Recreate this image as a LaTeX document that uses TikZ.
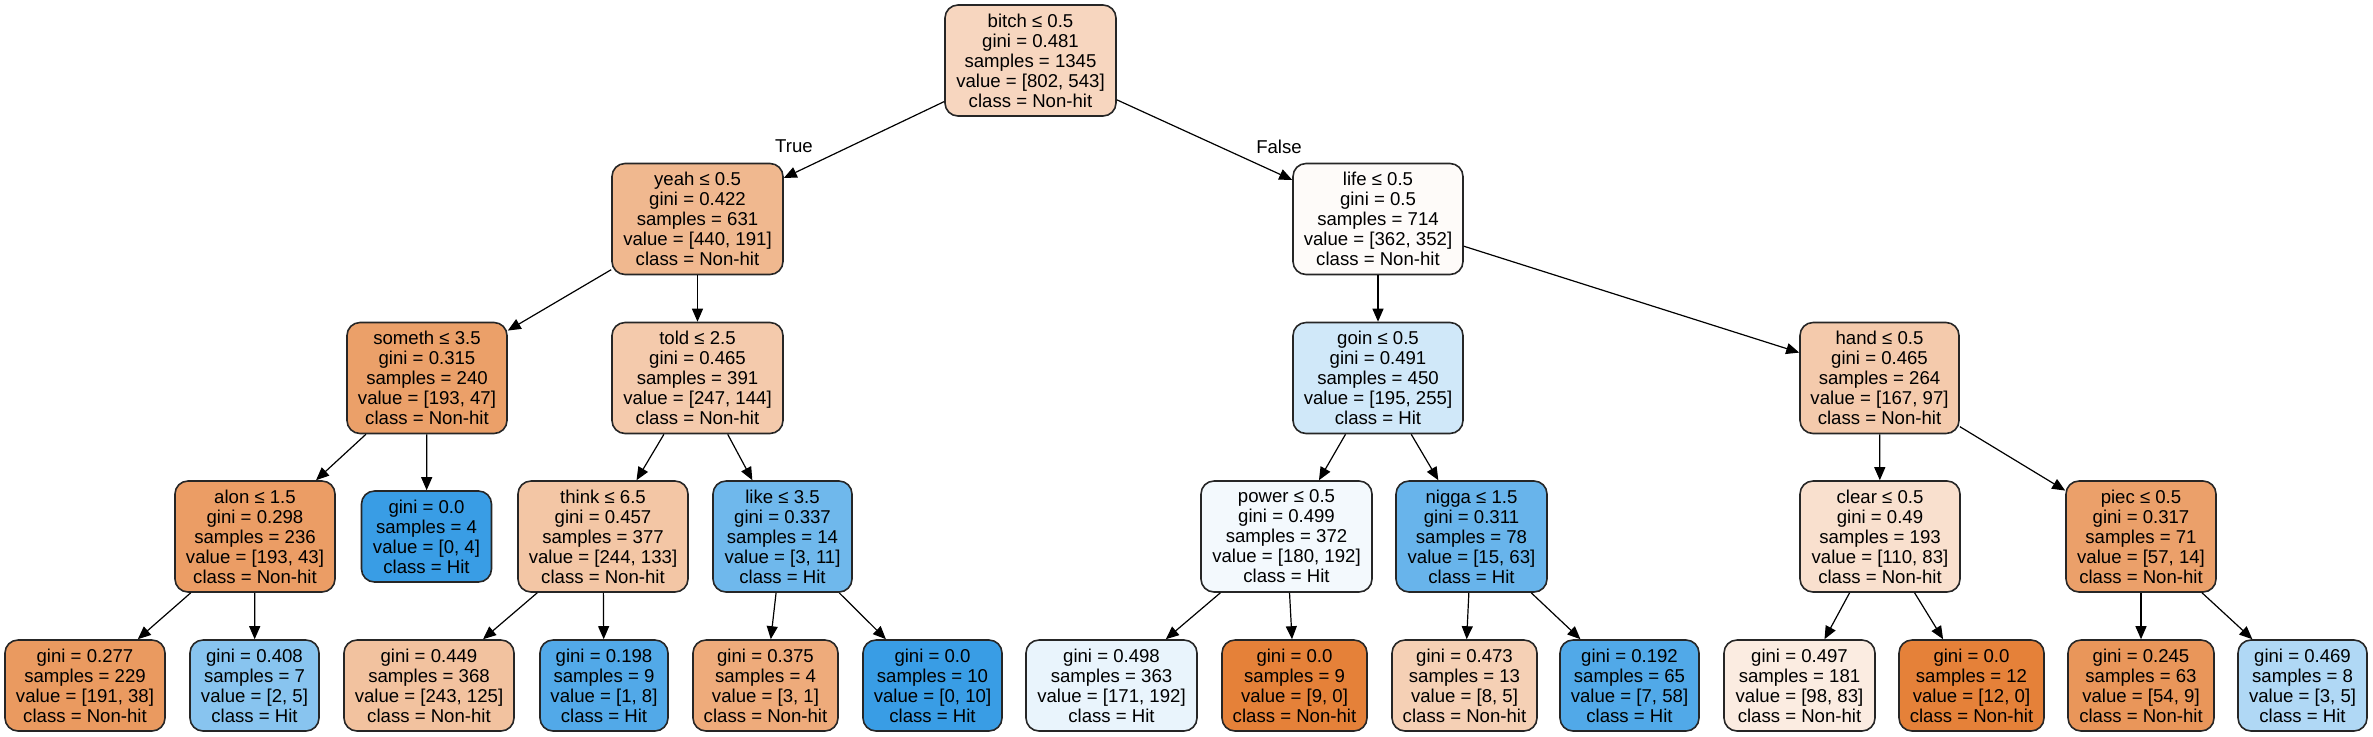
\documentclass[tikz,border=0pt]{standalone}
\usepackage{fontspec}
\setmainfont{Liberation Sans}
\usetikzlibrary{arrows.meta}
\definecolor{nh}{RGB}{229,129,57}
\definecolor{ht}{RGB}{57,157,229}
\tikzset{
  tn/.style={draw=black!85, line width=0.8pt, rounded corners=6.5pt, align=center,
    inner sep=0pt, font=\fontsize{9.3}{10}\selectfont},
  dn/.style={tn, minimum height=55.5pt},
  lf/.style={tn, minimum height=45.5pt},
  edge/.style={draw=black, line width=0.6pt, -{Triangle[length=6.5pt,width=5.5pt]}},
  elab/.style={font=\fontsize{9.3}{10}\selectfont, inner sep=0pt}
}
\begin{document}
\begin{tikzpicture}[x=0.5pt,y=-0.5pt]
\useasboundingbox (0,0) rectangle (2373,736);
% level 0
\node[dn, fill=nh!32.3, minimum width=85.5pt] (root) at (1030.5,60.5) {bitch ≤ 0.5\\gini = 0.481\\samples = 1345\\value = [802, 543]\\class = Non-hit};
% level 1
\node[dn, fill=nh!56.6, minimum width=85.5pt] (yeah) at (697.5,219) {yeah ≤ 0.5\\gini = 0.422\\samples = 631\\value = [440, 191]\\class = Non-hit};
\node[dn, fill=nh!2.8, minimum width=85pt] (life) at (1378,219) {life ≤ 0.5\\gini = 0.5\\samples = 714\\value = [362, 352]\\class = Non-hit};
% level 2
\node[dn, fill=nh!75.6, minimum width=80pt] (someth) at (427,378) {someth ≤ 3.5\\gini = 0.315\\samples = 240\\value = [193, 47]\\class = Non-hit};
\node[dn, fill=nh!41.7, minimum width=85.5pt] (told) at (697.5,378) {told ≤ 2.5\\gini = 0.465\\samples = 391\\value = [247, 144]\\class = Non-hit};
\node[dn, fill=ht!23.5, minimum width=85pt] (goin) at (1378,378) {goin ≤ 0.5\\gini = 0.491\\samples = 450\\value = [195, 255]\\class = Hit};
\node[dn, fill=nh!41.9, minimum width=79.5pt] (hand) at (1879.5,378) {hand ≤ 0.5\\gini = 0.465\\samples = 264\\value = [167, 97]\\class = Non-hit};
% level 3
\node[dn, fill=nh!77.7, minimum width=80pt] (alon) at (255,536.5) {alon ≤ 1.5\\gini = 0.298\\samples = 236\\value = [193, 43]\\class = Non-hit};
\node[lf, fill=ht, minimum width=65pt] (hitA) at (426.5,536.5) {gini = 0.0\\samples = 4\\value = [0, 4]\\class = Hit};
\node[dn, fill=nh!45.5, minimum width=85pt] (think) at (603,536.5) {think ≤ 6.5\\gini = 0.457\\samples = 377\\value = [244, 133]\\class = Non-hit};
\node[dn, fill=ht!72.7, minimum width=69.5pt] (like) at (782.5,536.5) {like ≤ 3.5\\gini = 0.337\\samples = 14\\value = [3, 11]\\class = Hit};
\node[dn, fill=ht!6.25, minimum width=85.5pt] (power) at (1286.5,536.5) {power ≤ 0.5\\gini = 0.499\\samples = 372\\value = [180, 192]\\class = Hit};
\node[dn, fill=ht!76.2, minimum width=75.5pt] (nigga) at (1471.5,536.5) {nigga ≤ 1.5\\gini = 0.311\\samples = 78\\value = [15, 63]\\class = Hit};
\node[dn, fill=nh!24.5, minimum width=80pt] (clear) at (1880,536.5) {clear ≤ 0.5\\gini = 0.49\\samples = 193\\value = [110, 83]\\class = Non-hit};
\node[dn, fill=nh!75.4, minimum width=75pt] (piec) at (2141,536.5) {piec ≤ 0.5\\gini = 0.317\\samples = 71\\value = [57, 14]\\class = Non-hit};
% level 4
\node[lf, fill=nh!80.1, minimum width=80pt] (l1) at (85,685.5) {gini = 0.277\\samples = 229\\value = [191, 38]\\class = Non-hit};
\node[lf, fill=ht!60, minimum width=64.5pt] (l2) at (254.5,685.5) {gini = 0.408\\samples = 7\\value = [2, 5]\\class = Hit};
\node[lf, fill=nh!48.6, minimum width=85pt] (l3) at (429,685.5) {gini = 0.449\\samples = 368\\value = [243, 125]\\class = Non-hit};
\node[lf, fill=ht!87.5, minimum width=64pt] (l4) at (604,685.5) {gini = 0.198\\samples = 9\\value = [1, 8]\\class = Hit};
\node[lf, fill=nh!66.7, minimum width=72.5pt] (l5) at (765.5,685.5) {gini = 0.375\\samples = 4\\value = [3, 1]\\class = Non-hit};
\node[lf, fill=ht, minimum width=69.5pt] (l6) at (932.5,685.5) {gini = 0.0\\samples = 10\\value = [0, 10]\\class = Hit};
\node[lf, fill=ht!10.9, minimum width=85.5pt] (l7) at (1111.5,685.5) {gini = 0.498\\samples = 363\\value = [171, 192]\\class = Hit};
\node[lf, fill=nh, minimum width=72.5pt] (l8) at (1294.5,685.5) {gini = 0.0\\samples = 9\\value = [9, 0]\\class = Non-hit};
\node[lf, fill=nh!37.5, minimum width=72.5pt] (l9) at (1464.5,685.5) {gini = 0.473\\samples = 13\\value = [8, 5]\\class = Non-hit};
\node[lf, fill=ht!87.9, minimum width=69.5pt] (l10) at (1629.5,685.5) {gini = 0.192\\samples = 65\\value = [7, 58]\\class = Hit};
\node[lf, fill=nh!15.3, minimum width=75.5pt] (l11) at (1799.5,685.5) {gini = 0.497\\samples = 181\\value = [98, 83]\\class = Non-hit};
\node[lf, fill=nh, minimum width=72.5pt] (l12) at (1971.5,685.5) {gini = 0.0\\samples = 12\\value = [12, 0]\\class = Non-hit};
\node[lf, fill=nh!83.3, minimum width=73pt] (l13) at (2141,685.5) {gini = 0.245\\samples = 63\\value = [54, 9]\\class = Non-hit};
\node[lf, fill=ht!40, minimum width=64.5pt] (l14) at (2302.5,685.5) {gini = 0.469\\samples = 8\\value = [3, 5]\\class = Hit};
% edges
\draw[edge] (root) -- (yeah);
\draw[edge] (root) -- (life);
\draw[edge] (yeah) -- (someth);
\draw[edge] (yeah) -- (told);
\draw[edge] (life) -- (goin);
\draw[edge] (life) -- (hand);
\draw[edge] (someth) -- (alon);
\draw[edge] (someth) -- (hitA);
\draw[edge] (told) -- (think);
\draw[edge] (told) -- (like);
\draw[edge] (goin) -- (power);
\draw[edge] (goin) -- (nigga);
\draw[edge] (hand) -- (clear);
\draw[edge] (hand) -- (piec);
\draw[edge] (alon) -- (l1);
\draw[edge] (alon) -- (l2);
\draw[edge] (think) -- (l3);
\draw[edge] (think) -- (l4);
\draw[edge] (like) -- (l5);
\draw[edge] (like) -- (l6);
\draw[edge] (power) -- (l7);
\draw[edge] (power) -- (l8);
\draw[edge] (nigga) -- (l9);
\draw[edge] (nigga) -- (l10);
\draw[edge] (clear) -- (l11);
\draw[edge] (clear) -- (l12);
\draw[edge] (piec) -- (l13);
\draw[edge] (piec) -- (l14);
% edge labels
\node[elab] (tlab) at (794,146) {True};
\node[elab] (flab) at (1279,147) {False};
\end{tikzpicture}
\end{document}
